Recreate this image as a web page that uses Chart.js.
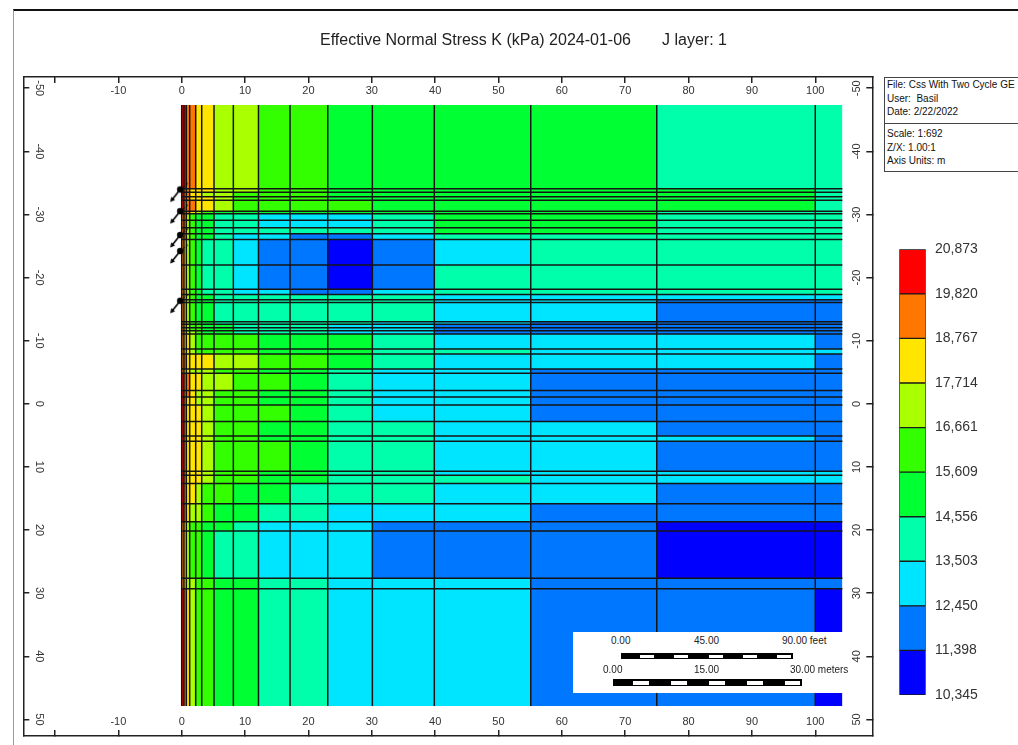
<!DOCTYPE html>
<html>
<head>
<meta charset="utf-8">
<script src="https://cdn.jsdelivr.net/npm/chart.js@4.4.0/dist/chart.umd.min.js"></script>
<style>
html,body{margin:0;padding:0;background:#fff;width:1018px;height:745px;overflow:hidden;font-family:"Liberation Sans",Arial,sans-serif;}
#outer{position:absolute;left:13px;top:9px;width:1010px;height:740px;border-top:2px solid #111;border-left:1px solid #9a9a9a;}
#mainCanvas{position:absolute;left:0;top:0;}
#legendCanvas{position:absolute;left:880px;top:230px;}
.t{position:absolute;white-space:pre;color:#222;}
#title1,#title2{top:30px;font-size:16px;line-height:20px;}
#info{position:absolute;left:884px;top:77px;width:150px;height:93px;border:1px solid #444;background:#fff;font-size:10px;color:#111;}
#info .sec1{height:45px;border-bottom:1px solid #444;padding-left:2px;line-height:13.5px;}
#info .sec2{padding-left:2px;padding-top:3px;line-height:13.5px;}
#scalebox{position:absolute;left:573px;top:632px;width:270px;height:61px;background:#fff;}
.sl{position:absolute;font-size:10px;line-height:12px;color:#222;white-space:pre;}
.bar{position:absolute;background:#000;}
.bar i{position:absolute;background:#fff;}
</style>
</head>
<body>
<div id="outer"></div>
<canvas id="mainCanvas" width="1018" height="745"></canvas>
<div class="t" id="title1" style="left:320px;">Effective Normal Stress K (kPa) 2024-01-06</div>
<div class="t" id="title2" style="left:662px;">J layer: 1</div>
<div id="info">
  <div class="sec1">File: Css With Two Cycle GE<br>User:&nbsp; Basil<br>Date: 2/22/2022</div>
  <div class="sec2">Scale: 1:692<br>Z/X: 1.00:1<br>Axis Units: m</div>
</div>
<canvas id="legendCanvas" width="138" height="480"></canvas>
<div id="scalebox">
  <div class="sl" style="left:38px;top:3px;">0.00</div>
  <div class="sl" style="left:121px;top:3px;">45.00</div>
  <div class="sl" style="left:209px;top:3px;">90.00 feet</div>
  <div class="bar" id="feetBar" style="left:48px;top:21px;width:172px;height:6px;"></div>
  <div class="sl" style="left:30px;top:32px;">0.00</div>
  <div class="sl" style="left:121px;top:32px;">15.00</div>
  <div class="sl" style="left:217px;top:32px;">30.00 meters</div>
  <div class="bar" id="meterBar" style="left:40px;top:47px;width:189px;height:7px;"></div>
</div>
<script>
// ---------------- data ----------------
const xTickValues = [-20, -10, 0, 10, 20, 30, 40, 50, 60, 70, 80, 90, 100];
const xTickLabels = ['', '-10', '0', '10', '20', '30', '40', '50', '60', '70', '80', '90', '100'];
const yTickValues = [-50, -40, -30, -20, -10, 0, 10, 20, 30, 40, 50];
const yTickLabels = ['-50', '-40', '-30', '-20', '-10', '0', '10', '20', '30', '40', '50'];

// grid cell boundaries (m)
const colBounds = [0, 0.36, 0.73, 1.26, 2.21, 3.16, 5.1, 8.15, 12.12, 17.1, 23.05, 30.09, 39.87, 55.09, 74.98, 100, 104.28];
const rowBounds = [-47.36, -34.06, -33.52, -32.79, -32.26, -30.52, -30.11, -29.1, -27.9, -26.95, -26.05, -22.0,
  -18.16, -17.32, -16.47, -16.06, -13.0, -12.59, -12.05, -11.58, -11.06, -8.69, -7.9, -5.53, -4.85, -2.11,
  -1.07, 0.2, 2.79, 5.09, 5.94, 10.68, 11.31, 12.62, 15.82, 18.67, 20.15, 27.62, 29.31, 47.87];

// contour class of each cell (0 = lowest stress band ... 9 = highest), one string per row, one digit per column
const cellLevels = [
  "9988776655444433",
  "9887776655444443",
  "9887766555444443",
  "9887776555444443",
  "9888776555544443",
  "9887654444444433",
  "8865443322234433",
  "8865443322234433",
  "8865443333334433",
  "8865443221123333",
  "8765433211012333",
  "8765433211013333",
  "8765433221123333",
  "8765443333332222",
  "8765443333332211",
  "8765443333332211",
  "8765443333322111",
  "8765544333221111",
  "8765544333221111",
  "8766544333221111",
  "8776555544432221",
  "8776555544433222",
  "8877776655432221",
  "8776665544322111",
  "9887766554322111",
  "9887665544322111",
  "9877665544322111",
  "9877765554322111",
  "9877765544332211",
  "9877765544332221",
  "9877765554332211",
  "9877765544332222",
  "9877765544333222",
  "9877655443332211",
  "9876654433222111",
  "8765544322211100",
  "8765543322211100",
  "8766554433222111",
  "9876554433222110"
];

const levelColors = ['#0000FF', '#0077FF', '#00E5FF', '#00FFAA', '#00FF33', '#33FF00', '#AAFF00', '#FFE500', '#FF7700', '#FF0000'];
const legendLabels = ['10,345', '11,398', '12,450', '13,503', '14,556', '15,609', '16,661', '17,714', '18,767', '19,820', '20,873'];

const wellX = [-0.24, -0.24, -0.24, -0.24, -0.24];
const wellY = [-33.96, -30.52, -26.74, -24.21, -16.32];

// ---------------- scale bar decoration ----------------
function fillBar(id, n) {
  const el = document.getElementById(id);
  const w = parseFloat(el.style.width), h = parseFloat(el.style.height);
  const seg = w / n;
  for (let i = 1; i < n; i += 2) {
    const s = document.createElement('i');
    s.style.left = (i * seg + 1.5) + 'px';
    s.style.width = (seg - 3) + 'px';
    s.style.top = '1.5px';
    s.style.height = (h - 3) + 'px';
    el.appendChild(s);
  }
}
fillBar('feetBar', 10);
fillBar('meterBar', 10);

// ---------------- well symbol ----------------
function makeWellSymbol() {
  const c = document.createElement('canvas');
  c.width = 30; c.height = 30;
  const g = c.getContext('2d');
  g.strokeStyle = '#000'; g.fillStyle = '#000'; g.lineWidth = 1.6;
  g.beginPath(); g.moveTo(15, 15); g.lineTo(7.5, 24.5); g.stroke();
  g.beginPath(); g.moveTo(5, 27.5); g.lineTo(6.1, 22.2); g.lineTo(9.9, 25.4); g.closePath(); g.fill();
  g.beginPath(); g.arc(15, 15, 3.2, 0, Math.PI * 2); g.fill();
  g.lineWidth = 1; g.setLineDash([2, 2]);
  g.beginPath(); g.moveTo(18, 12.5); g.lineTo(24, 8); g.stroke();
  return c;
}
const wellSymbol = makeWellSymbol();

// ---------------- datasets ----------------
const datasets = [];
cellLevels.forEach((row, r) => {
  let c = 0;
  while (c < row.length) {
    let e = c;
    while (e + 1 < row.length && row[e + 1] === row[c]) e++;
    datasets.push({
      type: 'line',
      data: [{x: colBounds[c], y: rowBounds[r]}, {x: colBounds[e + 1], y: rowBounds[r]}],
      fill: {value: rowBounds[r + 1]},
      backgroundColor: levelColors[+row[c]],
      borderColor: 'rgba(0,0,0,0)',
      borderWidth: 0,
      pointRadius: 0,
      order: 3
    });
    c = e + 1;
  }
});
const xFirst = colBounds[0], xLast = colBounds[colBounds.length - 1];
const yFirst = rowBounds[0], yLast = rowBounds[rowBounds.length - 1];
for (let r = 1; r < rowBounds.length - 1; r++) {
  datasets.push({type: 'line', data: [{x: xFirst, y: rowBounds[r]}, {x: xLast, y: rowBounds[r]}],
    borderColor: '#141414', borderWidth: 1.5, pointRadius: 0, fill: false, order: 2});
}
for (let c = 0; c < colBounds.length - 1; c++) {
  datasets.push({type: 'line', data: [{x: colBounds[c], y: yFirst}, {x: colBounds[c], y: yLast}],
    borderColor: '#141414', borderWidth: 1.5, pointRadius: 0, fill: false, order: 2});
}
datasets.push({type: 'line', data: wellY.map((y, i) => ({x: wellX[i], y})), showLine: false,
  pointStyle: wellSymbol, pointRadius: 8, order: 1});

// ---------------- axes ----------------
const FONT = {family: '"Liberation Sans", Arial, sans-serif', size: 11};
function xAxis(pos) {
  return {
    type: 'linear', position: pos, min: -25, max: 109,
    afterBuildTicks: s => { s.ticks = xTickValues.map(v => ({value: v})); },
    afterFit: s => { s.height = 0; s.paddingLeft = 0; s.paddingRight = 0; s.paddingTop = 0; s.paddingBottom = 0; },
    ticks: {mirror: true, padding: 7, autoSkip: false, maxRotation: 0, minRotation: 0, color: '#333', font: FONT,
      callback: (v, i) => xTickLabels[i]},
    grid: {drawOnChartArea: false, drawTicks: true, tickLength: -6, color: '#222', lineWidth: 1.5},
    border: {display: true, color: '#222', width: 1.5}
  };
}
function yAxis(pos, rot, pad) {
  return {
    type: 'linear', position: pos, min: -51.78, max: 52.63, reverse: true,
    afterBuildTicks: s => { s.ticks = yTickValues.map(v => ({value: v})); },
    afterFit: s => { s.width = 0; s.paddingLeft = 0; s.paddingRight = 0; s.paddingTop = 0; s.paddingBottom = 0; },
    ticks: {mirror: true, padding: pad, crossAlign: 'center', autoSkip: false, minRotation: rot, maxRotation: rot,
      color: '#333', font: FONT, callback: (v, i) => yTickLabels[i]},
    grid: {drawOnChartArea: false, drawTicks: true, tickLength: -6, color: '#222', lineWidth: 1.5},
    border: {display: true, color: '#222', width: 1.5}
  };
}

new Chart(document.getElementById('mainCanvas'), {
  type: 'line',
  data: {datasets},
  options: {
    responsive: false, animation: false, events: [],
    layout: {padding: {left: 23.3, top: 77, right: 145.7, bottom: 6.5}},
    plugins: {legend: {display: false}, tooltip: {enabled: false}},
    scales: {
      x: xAxis('bottom'),
      x2: xAxis('top'),
      y: yAxis('left', -90, 7.7),
      y2: yAxis('right', 90, -7.7)
    }
  }
});

// ---------------- colour legend ----------------
new Chart(document.getElementById('legendCanvas'), {
  type: 'bar',
  data: {
    labels: [''],
    datasets: levelColors.map((col, i) => ({
      data: [1], backgroundColor: col, borderColor: '#1a1a1a', borderWidth: 1, borderSkipped: false,
      barPercentage: 1, categoryPercentage: 1, stack: 's'
    }))
  },
  options: {
    responsive: false, animation: false, events: [],
    layout: {padding: {left: 19.3, top: 19.3, right: 32.3, bottom: 15}},
    plugins: {legend: {display: false}, tooltip: {enabled: false}},
    scales: {
      x: {type: 'category', stacked: true, display: false},
      y: {
        position: 'right', stacked: true, min: 0, max: 10,
        afterBuildTicks: s => { s.ticks = legendLabels.map((_, i) => ({value: i})); },
        afterFit: s => { s.width = 60; s.paddingTop = 0; s.paddingBottom = 0; },
        ticks: {padding: 9.3, autoSkip: false, color: '#333', font: {family: FONT.family, size: 14},
          callback: (v, i) => legendLabels[i]},
        grid: {display: false, drawTicks: false},
        border: {display: false}
      }
    }
  }
});
</script>
</body>
</html>
